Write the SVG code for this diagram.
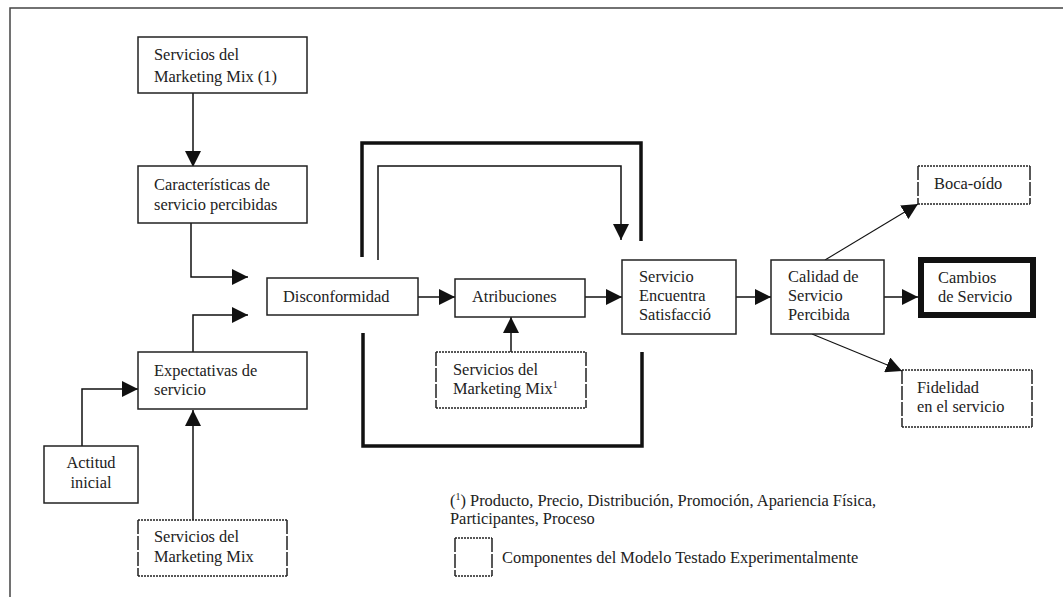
<svg xmlns="http://www.w3.org/2000/svg" width="1063" height="597" viewBox="0 0 1063 597">
<defs>
<style>
text{font-family:"Liberation Serif","Times New Roman",serif;font-size:16.4px;fill:#222}
.box{fill:#fff;stroke:#222;stroke-width:1.5}
.dot{fill:none;stroke:#222;stroke-width:1.5;stroke-dasharray:2 1}
.dash{fill:none;stroke:#222;stroke-width:1.5;stroke-dasharray:14 2}
.con{fill:none;stroke:#111;stroke-width:1.5}
.thin{fill:none;stroke:#111;stroke-width:1.1}
.thick{fill:none;stroke:#111;stroke-width:3.5}
.sup{font-size:10px}
</style>
<marker id="ah" viewBox="0 0 16 16" refX="16" refY="8" markerWidth="16" markerHeight="16" markerUnits="userSpaceOnUse" orient="auto">
<path d="M0,0 L16,8 L0,16 z" fill="#111"/>
</marker>
</defs>
<rect width="1063" height="597" fill="#fff"/>
<path d="M10,597 V8 H1063" fill="none" stroke="#444" stroke-width="1.5"/>

<g id="connectors">
<path class="con" d="M193,93 V167" marker-end="url(#ah)"/>
<path class="con" d="M191,223 V277 H248" marker-end="url(#ah)"/>
<path class="con" d="M193,352 V315 H248" marker-end="url(#ah)"/>
<path class="con" d="M82,446 V389 H138" marker-end="url(#ah)"/>
<path class="con" d="M193,520 V410" marker-end="url(#ah)"/>
<path class="con" d="M418,297 H455" marker-end="url(#ah)"/>
<path class="con" d="M585,297 H622" marker-end="url(#ah)"/>
<path class="con" d="M511,352 V317" marker-end="url(#ah)"/>
<path class="con" d="M378,260 V166 H621 V240" marker-end="url(#ah)"/>
<path class="thick" d="M362,257 V143 H641 V241"/>
<path class="thick" d="M363,333 V446 H642 V352"/>
<path class="con" d="M736,297 H771" marker-end="url(#ah)"/>
<path class="con" d="M884,297 H918" marker-end="url(#ah)"/>
<path class="thin" d="M825,260 L918,204" marker-end="url(#ah)"/>
<path class="thin" d="M812,334 L902,371" marker-end="url(#ah)"/>
</g>

<g id="n-mm1">
<rect class="box" x="138" y="37" width="169" height="56"/>
<text x="154" y="60">Servicios del</text>
<text x="154" y="82">Marketing Mix (1)</text>
</g>
<g id="n-caract">
<rect class="box" x="138" y="166" width="169" height="57"/>
<text x="154" y="190">Características de</text>
<text x="154" y="210">servicio percibidas</text>
</g>
<g id="n-expect">
<rect class="box" x="138" y="352" width="169" height="57"/>
<text x="154" y="376">Expectativas de</text>
<text x="154" y="395">servicio</text>
</g>
<g id="n-actitud">
<rect class="box" x="44" y="446" width="94" height="57"/>
<text x="91" y="468" text-anchor="middle">Actitud</text>
<text x="91" y="488" text-anchor="middle">inicial</text>
</g>
<g id="n-mm-bottom">
<path class="dot" d="M138,520 H287 M138,576 H287"/>
<path class="dash" d="M138,520 V576 M287,520 V576"/>
<text x="154" y="542">Servicios del</text>
<text x="154" y="562">Marketing Mix</text>
</g>
<g id="n-discon">
<rect class="box" x="267" y="278" width="151" height="37"/>
<text x="283" y="302">Disconformidad</text>
</g>
<g id="n-atrib">
<rect class="box" x="455" y="279" width="130" height="38"/>
<text x="472" y="302">Atribuciones</text>
</g>
<g id="n-mm-mid">
<path class="dot" d="M436,352 H586 M436,408 H586"/>
<path class="dash" d="M436,352 V408 M586,352 V408"/>
<text x="453" y="375">Servicios del</text>
<text x="453" y="394">Marketing Mix<tspan class="sup" dy="-6">1</tspan></text>
</g>
<g id="n-servicio">
<rect class="box" x="622" y="260" width="114" height="74"/>
<text x="639" y="282">Servicio</text>
<text x="639" y="301">Encuentra</text>
<text x="639" y="320">Satisfacció</text>
</g>
<g id="n-calidad">
<rect class="box" x="771" y="260" width="113" height="74"/>
<text x="788" y="282">Calidad de</text>
<text x="788" y="301">Servicio</text>
<text x="788" y="320">Percibida</text>
</g>
<g id="n-cambios">
<rect x="921" y="260" width="112" height="55" fill="#fff" stroke="#111" stroke-width="6"/>
<text x="938" y="283">Cambios</text>
<text x="938" y="302">de Servicio</text>
</g>
<g id="n-boca">
<path class="dot" d="M918,166 H1030 M918,204 H1030"/>
<path class="dash" d="M918,166 V204 M1030,166 V204"/>
<text x="934" y="189">Boca-oído</text>
</g>
<g id="n-fidelidad">
<path class="dot" d="M902,370 H1032 M902,427 H1032"/>
<path class="dash" d="M902,370 V427 M1032,370 V427"/>
<text x="917" y="393">Fidelidad</text>
<text x="917" y="412">en el servicio</text>
</g>
<g id="legend">
<text x="450" y="506">(<tspan class="sup" dy="-6">1</tspan><tspan dy="6">) Producto, Precio, Distribución, Promoción, Apariencia Física,</tspan></text>
<text x="450" y="524">Participantes, Proceso</text>
<path class="dot" d="M455,538 H492 M455,576 H492"/>
<path class="dash" d="M455,538 V576 M492,538 V576"/>
<text x="502" y="563">Componentes del Modelo Testado Experimentalmente</text>
</g>
</svg>
